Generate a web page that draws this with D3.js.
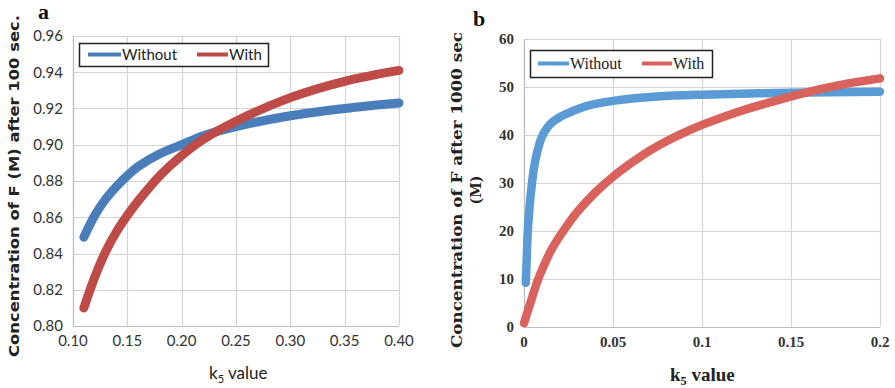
<!DOCTYPE html>
<html>
<head>
<meta charset="utf-8">
<script src="https://cdn.jsdelivr.net/npm/d3@7"></script>
<style>
  body { margin: 0; background: #fff; }
  svg { display: block; }
</style>
</head>
<body>
<svg id="chart" width="895" height="388"></svg>
<script>
// Panel a — k5 vs concentration of F after 100 sec
const aTicksX = [0.10, 0.15, 0.20, 0.25, 0.30, 0.35, 0.40];
const aTicksY = [0.80, 0.82, 0.84, 0.86, 0.88, 0.90, 0.92, 0.94, 0.96];
const aWithout = [
  [0.11, 0.849], [0.12, 0.861], [0.13, 0.870], [0.14, 0.877], [0.15, 0.883],
  [0.16, 0.888], [0.18, 0.895], [0.20, 0.900], [0.22, 0.905], [0.25, 0.910],
  [0.30, 0.916], [0.35, 0.920], [0.40, 0.923]
];
const aWith = [
  [0.11, 0.810], [0.12, 0.827], [0.13, 0.841], [0.14, 0.852], [0.15, 0.861],
  [0.16, 0.869], [0.18, 0.883], [0.20, 0.894], [0.22, 0.903], [0.25, 0.913],
  [0.30, 0.926], [0.35, 0.935], [0.40, 0.941]
];

// Panel b — k5 vs concentration of F after 1000 sec
const bTicksX = [0, 0.05, 0.1, 0.15, 0.2];
const bTicksY = [0, 10, 20, 30, 40, 50, 60];
const bWithout = [
  [0.001, 9.2], [0.0015, 14], [0.002, 19], [0.003, 24.5], [0.0045, 30],
  [0.006, 34], [0.008, 37.3], [0.010, 39.6], [0.013, 41.5], [0.016, 42.7],
  [0.020, 43.7], [0.025, 44.6], [0.035, 46], [0.050, 47.1], [0.075, 48],
  [0.10, 48.4], [0.15, 48.8], [0.20, 49]
];
const bWith = [
  [0, 0.8], [0.004, 5.5], [0.008, 10], [0.012, 13.5], [0.016, 16.5],
  [0.023, 20.5], [0.030, 24], [0.040, 28], [0.050, 31.3], [0.060, 34.1],
  [0.070, 36.6], [0.080, 38.7], [0.090, 40.5], [0.10, 42.1], [0.12, 44.8],
  [0.14, 47], [0.16, 49], [0.18, 50.6], [0.20, 51.8]
];

const seriesNames = ['Without', 'With'];

const svg = d3.select('#chart');

const panels = [
  {
    left: 73, right: 399, top: 36, bottom: 326,
    xDomain: [0.10, 0.40], yDomain: [0.80, 0.96],
    ticksX: aTicksX, ticksY: aTicksY,
    fmtX: d3.format('.2f'), fmtY: d3.format('.2f'),
    series: [aWithout, aWith],
    colors: ['#4a7ebb', '#be4b48'], width: 9,
    font: 'Lato, "Open Sans", sans-serif', tickSize: 15, tickWeight: 'normal',
    letter: 'a', letterX: 38, letterY: 19,
    legend: { x: 79, y: 43, w: 189, h: 23, line: [[88, 121], [197, 228]], fs: 15 },
    yTitle: ['Concentration of F (M) after 100 sec.'], yTitleFont: '"DejaVu Sans", sans-serif',
    yTitleX: [14], yTitleCy: 186, yTitleLen: [342], yTitleSize: 14,
    xTitleX: 209, xTitleY: 379, xTitleSize: 17, xTitleWeight: 'normal'
  },
  {
    left: 524, right: 880, top: 39, bottom: 327,
    xDomain: [0, 0.2], yDomain: [0, 60],
    ticksX: bTicksX, ticksY: bTicksY,
    fmtX: d => String(d), fmtY: d => String(d),
    series: [bWithout, bWith],
    colors: ['#5b9bd5', '#d9625c'], width: 8.5,
    font: '"Liberation Serif", "DejaVu Serif", serif', tickSize: 15, tickWeight: 'bold',
    letter: 'b', letterX: 473, letterY: 26,
    legend: { x: 530, y: 50, w: 182, h: 27, line: [[538, 569], [642, 672]], fs: 16 },
    yTitle: ['Concentration of F after 1000 sec', '(M)'], yTitleFont: '"DejaVu Serif", serif',
    yTitleX: [457, 476], yTitleCy: 190, yTitleLen: [316, null], yTitleSize: 14,
    xTitleX: 670, xTitleY: 381, xTitleSize: 19, xTitleWeight: 'bold'
  }
];

panels.forEach(p => {
  const x = d3.scaleLinear().domain(p.xDomain).range([p.left, p.right]);
  const y = d3.scaleLinear().domain(p.yDomain).range([p.bottom, p.top]);
  const g = svg.append('g');

  // Gridlines
  g.append('g').selectAll('line')
    .data(p.ticksX)
    .join('line')
    .attr('x1', d => Math.round(x(d)) + 0.5).attr('x2', d => Math.round(x(d)) + 0.5)
    .attr('y1', p.top).attr('y2', p.bottom)
    .attr('stroke', '#d4d4d4').attr('stroke-width', 1.2);
  g.append('g').selectAll('line')
    .data(p.ticksY)
    .join('line')
    .attr('x1', p.left).attr('x2', p.right)
    .attr('y1', d => Math.round(y(d)) + 0.5).attr('y2', d => Math.round(y(d)) + 0.5)
    .attr('stroke', '#d4d4d4').attr('stroke-width', 1.2);

  // Axis frame lines (left + bottom)
  g.append('line')
    .attr('x1', p.left + 0.5).attr('x2', p.left + 0.5)
    .attr('y1', p.top).attr('y2', p.bottom)
    .attr('stroke', '#bdbdbd').attr('stroke-width', 1.2);
  g.append('line')
    .attr('x1', p.left).attr('x2', p.right)
    .attr('y1', p.bottom + 0.5).attr('y2', p.bottom + 0.5)
    .attr('stroke', '#bdbdbd').attr('stroke-width', 1.2);

  // Tick labels
  g.append('g').selectAll('text')
    .data(p.ticksY)
    .join('text')
    .attr('x', p.left - 10)
    .attr('y', d => y(d))
    .attr('dy', '0.35em')
    .attr('text-anchor', 'end')
    .attr('font-family', p.font)
    .attr('font-size', p.tickSize)
    .attr('font-weight', p.tickWeight)
    .attr('fill', '#333')
    .text(p.fmtY);
  g.append('g').selectAll('text')
    .data(p.ticksX)
    .join('text')
    .attr('x', d => x(d))
    .attr('y', p.bottom + 15)
    .attr('dy', '0.35em')
    .attr('text-anchor', 'middle')
    .attr('font-family', p.font)
    .attr('font-size', p.tickSize)
    .attr('font-weight', p.tickWeight)
    .attr('fill', '#333')
    .text(p.fmtX);

  // Series lines — centripetal Catmull-Rom keeps the steep rise smooth
  const line = d3.line()
    .x(d => x(d[0]))
    .y(d => y(d[1]))
    .curve(d3.curveCatmullRom.alpha(0.5));
  p.series.forEach((s, i) => {
    g.append('path')
      .datum(s)
      .attr('d', line)
      .attr('fill', 'none')
      .attr('stroke', p.colors[i])
      .attr('stroke-width', p.width)
      .attr('stroke-linecap', 'round')
      .attr('stroke-linejoin', 'round');
  });

  // Legend
  const L = p.legend;
  g.append('rect')
    .attr('x', L.x + 0.5).attr('y', L.y + 0.5)
    .attr('width', L.w).attr('height', L.h)
    .attr('fill', '#fff')
    .attr('stroke', '#222').attr('stroke-width', 1.5);
  seriesNames.forEach((name, i) => {
    const [x1, x2] = L.line[i];
    g.append('line')
      .attr('x1', x1).attr('x2', x2)
      .attr('y1', L.y + L.h / 2).attr('y2', L.y + L.h / 2)
      .attr('stroke', p.colors[i]).attr('stroke-width', 4);
    g.append('text')
      .attr('x', x2 + 1)
      .attr('y', L.y + L.h / 2)
      .attr('dy', '0.35em')
      .attr('font-family', p.font)
      .attr('font-size', L.fs)
      .attr('fill', '#222')
      .text(name);
  });

  // Panel letter
  g.append('text')
    .attr('x', p.letterX).attr('y', p.letterY)
    .attr('font-family', '"Liberation Serif", "DejaVu Serif", serif')
    .attr('font-weight', 'bold')
    .attr('font-size', 22)
    .attr('fill', '#111')
    .text(p.letter);

  // Y title (rotated)
  p.yTitle.forEach((t, i) => {
    const tx = g.append('text')
      .attr('transform', `translate(${p.yTitleX[i]},${p.yTitleCy}) rotate(-90)`)
      .attr('text-anchor', 'middle')
      .attr('dy', '0.35em')
      .attr('font-family', p.yTitleFont)
      .attr('font-weight', 'bold')
      .attr('font-size', p.yTitleSize)
      .attr('fill', '#222')
      .text(t);
    if (p.yTitleLen[i]) tx.attr('textLength', p.yTitleLen[i]).attr('lengthAdjust', 'spacingAndGlyphs');
  });

  // X title with subscript
  const xt = g.append('text')
    .attr('x', p.xTitleX).attr('y', p.xTitleY)
    .attr('font-family', p.font)
    .attr('font-size', p.xTitleSize)
    .attr('font-weight', p.xTitleWeight)
    .attr('fill', '#222');
  xt.append('tspan').text('k');
  xt.append('tspan').attr('font-size', p.xTitleSize * 0.65).attr('dy', 4).text('5');
  xt.append('tspan').attr('dy', -4).text(' value');
});
</script>
</body>
</html>
